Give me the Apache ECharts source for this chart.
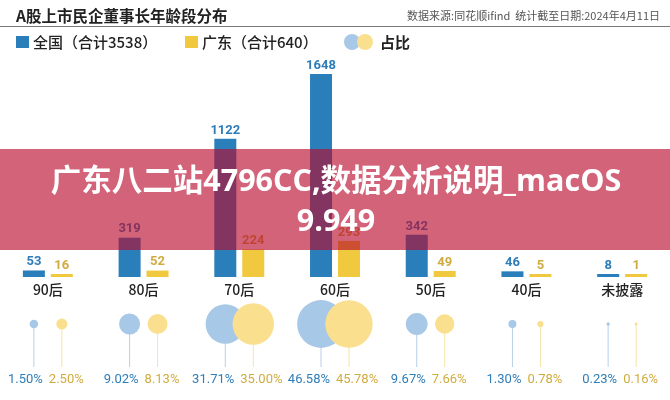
<!DOCTYPE html>
<html>
<head>
<meta charset="utf-8">
<script src="https://cdn.jsdelivr.net/npm/echarts@6/dist/echarts.min.js"></script>
<style>html,body{margin:0;padding:0;background:#fff;}#c{width:670px;height:400px;}</style>
</head>
<body>
<div id="c"></div>
<script>
// ---- data ----
const categories = ['90后', '80后', '70后', '60后', '50后', '40后', '未披露'];
const nationalCounts = [53, 319, 1122, 1648, 342, 46, 8];
const guangdongCounts = [16, 52, 224, 293, 49, 5, 1];
const nationalPct = [1.50, 9.02, 31.71, 46.58, 9.67, 1.30, 0.23];
const guangdongPct = [2.50, 8.13, 35.00, 45.78, 7.66, 0.78, 0.16];
const titleText = 'A股上市民企董事长年龄段分布';
const sourceText = '数据来源:同花顺ifind  统计截至日期:2024年4月11日';
const bannerLine1 = '广东八二站4796CC,数据分析说明_macOS';
const bannerLine2 = '9.949';
const pctAxisLevel = [1, 1, 1, 1, 1, 1, 1];

const sum = a => a.reduce((s, v) => s + v, 0);
const nationalName = '全国（合计' + sum(nationalCounts) + '）';
const guangdongName = '广东（合计' + sum(guangdongCounts) + '）';

const BLUE = '#2a7fbb', YELLOW = '#f0c93e';
const BLUE_TXT = '#2f7db8', YELLOW_TXT = '#d0ac40';
const BLUE_BUB = '#a8c8e7', YELLOW_BUB = '#fadf8e';
const BLUE_STEM = '#b7d0e9', YELLOW_STEM = '#f6e3a6';
const CJK = '"Noto Sans CJK SC", sans-serif';
const NARROW = 'Roboto, "Noto Sans CJK SC", sans-serif';

const chart = echarts.init(document.getElementById('c'), null, {renderer: 'canvas'});

const pctLabel = (color, align, dx) => ({
  show: true, position: 'bottom', distance: 6, align: align, offset: [dx, 0],
  color: color, fontFamily: NARROW, fontSize: 13,
  formatter: p => (color === BLUE_TXT ? nationalPct : guangdongPct)[p.dataIndex].toFixed(2) + '%'
});

chart.setOption({
  animation: false,
  backgroundColor: '#fff',
  grid: [
    {left: -3, width: 684, top: 74, height: 203},
    {left: -3, width: 684, top: 324, height: 43}
  ],
  xAxis: [
    {type: 'category', gridIndex: 0, data: categories,
     axisLine: {show: false}, axisTick: {show: false},
     axisLabel: {margin: 6, color: '#222', fontSize: 14, fontWeight: 500, fontFamily: CJK}},
    {type: 'category', gridIndex: 1, data: categories, show: false}
  ],
  yAxis: [
    {type: 'value', gridIndex: 0, min: 0, max: Math.max(...nationalCounts), show: false, splitLine: {show: false}},
    {type: 'value', gridIndex: 1, min: 0, max: 1, show: false, splitLine: {show: false}}
  ],
  series: [
    {type: 'bar', name: nationalName, xAxisIndex: 0, yAxisIndex: 0, data: nationalCounts,
     barWidth: 22, barGap: '27%', barMinHeight: 3, itemStyle: {color: BLUE},
     label: {show: true, position: 'top', distance: 2, color: BLUE_TXT, fontFamily: NARROW, fontWeight: 'bold', fontSize: 13}},
    {type: 'bar', name: guangdongName, xAxisIndex: 0, yAxisIndex: 0, data: guangdongCounts,
     barWidth: 22, barGap: '27%', barMinHeight: 3, itemStyle: {color: YELLOW},
     label: {show: true, position: 'top', distance: 2, color: YELLOW_TXT, fontFamily: NARROW, fontWeight: 'bold', fontSize: 13}},
    {type: 'bar', xAxisIndex: 1, yAxisIndex: 1, data: pctAxisLevel, barWidth: 1, barGap: '2700%',
     itemStyle: {color: BLUE_STEM}, label: pctLabel(BLUE_TXT, 'right', 9), z: 1},
    {type: 'bar', xAxisIndex: 1, yAxisIndex: 1, data: pctAxisLevel, barWidth: 1, barGap: '2700%',
     itemStyle: {color: YELLOW_STEM}, label: pctLabel(YELLOW_TXT, 'left', -13), z: 1},
    {type: 'scatter', xAxisIndex: 1, yAxisIndex: 1, data: pctAxisLevel, z: 3,
     symbolSize: (v, p) => 7 * Math.sqrt(nationalPct[p.dataIndex]), symbolOffset: [-14, 0],
     itemStyle: {color: BLUE_BUB, opacity: 1}},
    {type: 'scatter', xAxisIndex: 1, yAxisIndex: 1, data: pctAxisLevel, z: 4,
     symbolSize: (v, p) => 7 * Math.sqrt(guangdongPct[p.dataIndex]), symbolOffset: [14, 0],
     itemStyle: {color: YELLOW_BUB, opacity: 1}}
  ],
  graphic: [
    {type: 'text', left: 16, top: 8, style: {text: titleText, fill: '#222', font: 'bold 15.5px ' + CJK}},
    {type: 'text', right: 10, top: 10, style: {text: sourceText, fill: '#555', font: '11px ' + CJK}},
    {type: 'line', shape: {x1: 0, y1: 26.5, x2: 670, y2: 26.5}, style: {stroke: '#777', lineWidth: 1}},
    {type: 'rect', shape: {x: 16, y: 36, width: 13, height: 12}, style: {fill: BLUE}},
    {type: 'text', x: 33, y: 42, style: {text: nationalName, fill: '#222', font: '500 15px ' + CJK, textVerticalAlign: 'middle'}},
    {type: 'rect', shape: {x: 185, y: 36, width: 13, height: 12}, style: {fill: YELLOW}},
    {type: 'text', x: 202, y: 42, style: {text: guangdongName, fill: '#222', font: '500 15px ' + CJK, textVerticalAlign: 'middle'}},
    {type: 'circle', shape: {cx: 352, cy: 42, r: 8}, style: {fill: BLUE_BUB}},
    {type: 'circle', shape: {cx: 365, cy: 42, r: 8}, style: {fill: YELLOW_BUB}},
    {type: 'text', x: 380, y: 42, style: {text: '占比', fill: '#222', font: 'bold 15px ' + CJK, textVerticalAlign: 'middle'}},
    {type: 'rect', z: 100, shape: {x: 0, y: 149, width: 670, height: 101}, style: {fill: 'rgba(184,8,42,0.63)'}},
    {type: 'text', z: 101, x: 336, y: 182, style: {text: bannerLine1, fill: '#fff', font: 'bold 30.5px "Open Sans", "Noto Sans CJK SC", sans-serif', textAlign: 'center', textVerticalAlign: 'middle'}},
    {type: 'text', z: 101, x: 336, y: 222, style: {text: bannerLine2, fill: '#fff', font: 'bold 30.5px "Open Sans", "Noto Sans CJK SC", sans-serif', textAlign: 'center', textVerticalAlign: 'middle'}}
  ]
});
</script>
</body>
</html>
